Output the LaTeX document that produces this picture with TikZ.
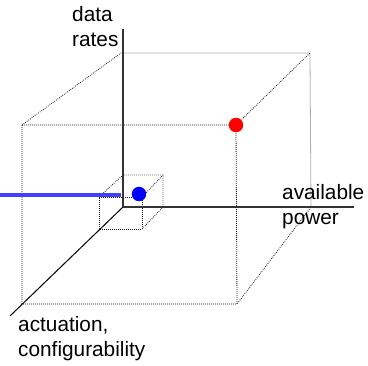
\documentclass[tikz,border=0pt]{standalone}
\usepackage{fontspec}
\setmainfont{Liberation Sans}
\begin{document}
\begin{tikzpicture}[x=1pt,y=-1pt,
  edge/.style={line width=0.8pt,dash pattern=on 0.8pt off 1.2pt,draw=black!90},
  axis/.style={line width=1.1pt,draw=black!80},
  lbl/.style={font=\fontsize{20.8}{25}\selectfont,align=left,inner sep=0pt,anchor=base west},
  dot/.style={circle,inner sep=0pt,minimum size=14.5pt}]
\useasboundingbox (0,0) rectangle (368,366);
% big cube
\coordinate (A) at (22,125);
\coordinate (B) at (236,125);
\coordinate (C) at (237,304);
\coordinate (D) at (22,304);
\coordinate (E) at (121,53);
\coordinate (F) at (310,53);
\coordinate (G) at (311,207);
\coordinate (O) at (123,207);
\draw[edge] (A) -- (B) -- (C) -- (D) -- (A);
\draw[edge] (A) -- (E) -- (F) -- (G) -- (C);
\draw[edge] (B) -- (F);
% small cube
\coordinate (a) at (99,197);
\coordinate (b) at (142,197);
\coordinate (c) at (142,229);
\coordinate (d) at (99,229);
\coordinate (e) at (123,175);
\coordinate (f) at (163,175);
\coordinate (g) at (163,207);
\draw[edge] (a) -- (b) -- (c) -- (d) -- (a);
\draw[edge] (a) -- (e) -- (f) -- (g) -- (c);
\draw[edge] (b) -- (f);
% axes
\coordinate (ytop) at (123,29);
\coordinate (xend) at (354,207);
\coordinate (zend) at (10,316);
\draw[axis] (O) -- (ytop);
\draw[axis] (O) -- (xend);
\draw[line width=1pt,black] (O) -- (zend);
% blue line and dots
\coordinate (bl) at (0,195);
\coordinate (br) at (121,195);
\draw[line width=3.5pt,draw={rgb,255:red,64;green,64;blue,255}] (bl) -- (br);
\node[dot,fill={rgb,255:red,0;green,0;blue,255}] (blue) at (139,194) {};
\node[dot,fill={rgb,255:red,255;green,0;blue,0}] (red) at (236,125) {};
% labels (base anchor = baseline of the last line)
\node[lbl] (ylab) at (72,47) {data\\rates};
\node[lbl] (xlab) at (282,225) {available\\power};
\node[lbl] (zlab) at (18,357) {actuation,\\configurability};
\end{tikzpicture}
\end{document}
